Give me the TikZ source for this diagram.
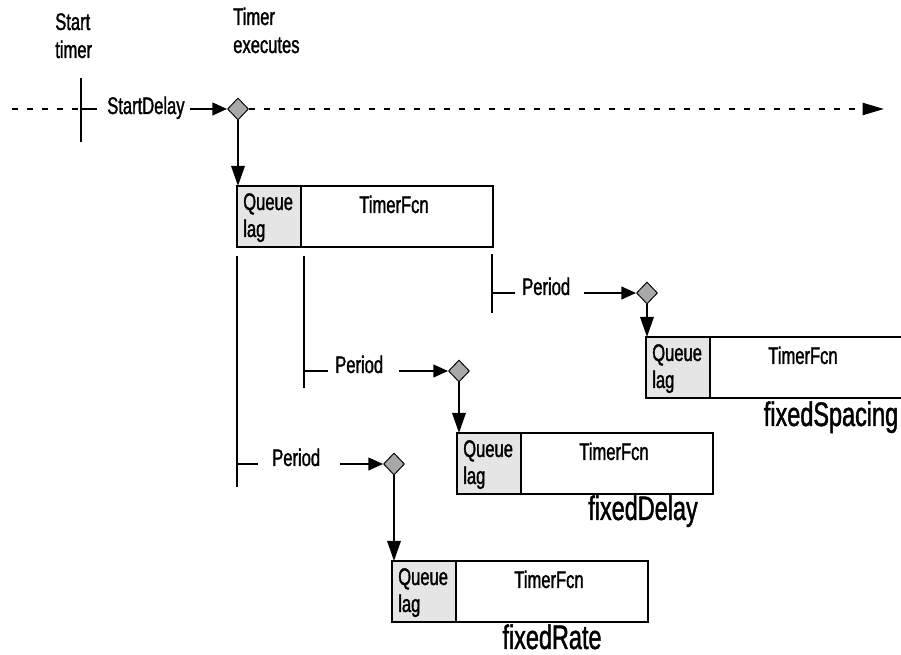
\documentclass[tikz,border=0pt]{standalone}
\usepackage{fontspec}
\setmainfont{Liberation Sans}[FakeStretch=0.69,FakeBold=1.3]
\usetikzlibrary{arrows.meta,shapes.geometric}
\newcommand\timerbox[3]{%
  \node[cell] (#1c) at (#2,#3) {};
  \node[tbox] (#1) at (#2,#3) {};
  \draw[line width=1.7pt] (#1c.north east) -- (#1c.south east);
  \node[lbl] (#1q) at ([xshift=4.5pt,yshift=-18pt]#1.north west) {Queue};
  \node[lbl] (#1l) at ([xshift=4.5pt,yshift=-38.25pt]#1.north west) {lag};
  \node[fcn] (#1f) at ([xshift=69.75pt,yshift=-20.25pt]#1c.north east) {TimerFcn};
}
\begin{document}
\begin{tikzpicture}[x=0.75pt,y=-0.75pt,
  lw/.style={line width=1.6pt},
  lbl/.style={inner sep=0pt, anchor=base west, font=\fontsize{18}{21}\selectfont},
  fcn/.style={inner sep=0pt, anchor=base, font=\fontsize{18}{21}\selectfont},
  big/.style={inner sep=0pt, anchor=base, font=\fontsize{25.5}{30}\selectfont},
  dia/.style={diamond, draw, line width=0.7pt, fill=black!34, inner sep=0pt, minimum width=15.75pt, minimum height=16.5pt},
  tbox/.style={rectangle, draw, line width=1.7pt, minimum width=192pt, minimum height=45.75pt, anchor=north west, inner sep=0pt, outer sep=0pt},
  cell/.style={rectangle, fill=black!10, minimum width=48pt, minimum height=45.75pt, anchor=north west, inner sep=0pt, outer sep=0pt},
  harr/.style={lw, -{Triangle[length=11pt,width=9.5pt]}},
  varr/.style={lw, -{Triangle[length=15pt,width=10pt]}},
  dashline/.style={lw, dash pattern=on 4.5pt off 6.75pt}
]
\useasboundingbox (0,0) rectangle (901,655);

% header labels
\node[lbl] (st1) at (55,30) {Start};
\node[lbl] (st2) at (55,58) {timer};
\node[lbl] (te1) at (233,25) {Timer};
\node[lbl] (te2) at (233,53) {executes};

% main timeline
\coordinate (L0) at (12,109);
\coordinate (T0) at (81,109);
\coordinate (T0a) at (81,78);
\coordinate (T0b) at (81,142);
\coordinate (T0c) at (97,109);
\coordinate (S0) at (190,109);
\coordinate (R0) at (884,109);
\node[lbl] (sd) at (107,114) {StartDelay};
\node[dia] (d0) at (238,109) {};
\draw[dashline] (L0) -- (T0);
\draw[lw] (T0a) -- (T0b);
\draw[lw] (T0) -- (T0c);
\draw[harr] (S0) -- (d0.west);
\draw[dashline, -{Triangle[length=16pt,width=9pt]}] (d0.east) -- (R0);

% first execution
\timerbox{b1}{237}{186}
\draw[varr] (d0.south) -- (d0.south |- b1.north);

% timeline markers below first box
\coordinate (v1a) at (237,256); \coordinate (v1b) at (237,487);
\coordinate (v2a) at (304,256); \coordinate (v2b) at (304,388);
\coordinate (v3a) at (492,254); \coordinate (v3b) at (492,313);
\draw[lw] (v1a) -- (v1b);
\draw[lw] (v2a) -- (v2b);
\draw[lw] (v3a) -- (v3b);

% fixedSpacing
\coordinate (tA) at (492,293); \coordinate (tAe) at (515,293);
\coordinate (pA) at (584,293);
\draw[lw] (tA) -- (tAe);
\node[lbl] (perA) at (522,295) {Period};
\node[dia] (dA) at (647,293) {};
\draw[harr] (pA) -- (dA.west);
\timerbox{b3}{646}{337}
\draw[varr] (dA.south) -- (dA.south |- b3.north);
\node[big] (fs) at (831,426) {fixedSpacing};

% fixedDelay
\coordinate (tB) at (304,371); \coordinate (tBe) at (328,371);
\coordinate (pB) at (399,371);
\draw[lw] (tB) -- (tBe);
\node[lbl] (perB) at (335,373) {Period};
\node[dia] (dB) at (459,371) {};
\draw[harr] (pB) -- (dB.west);
\timerbox{b2}{457}{433}
\draw[varr] (dB.south) -- (dB.south |- b2.north);
\node[big] (fd) at (643,520) {fixedDelay};

% fixedRate
\coordinate (tC) at (237,464); \coordinate (tCe) at (258,464);
\coordinate (pC) at (340,464);
\draw[lw] (tC) -- (tCe);
\node[lbl] (perC) at (272,466) {Period};
\node[dia] (dC) at (394,464) {};
\draw[harr] (pC) -- (dC.west);
\timerbox{b4}{392}{561}
\draw[varr] (dC.south) -- (dC.south |- b4.north);
\node[big] (fr) at (552,649) {fixedRate};
\end{tikzpicture}
\end{document}
